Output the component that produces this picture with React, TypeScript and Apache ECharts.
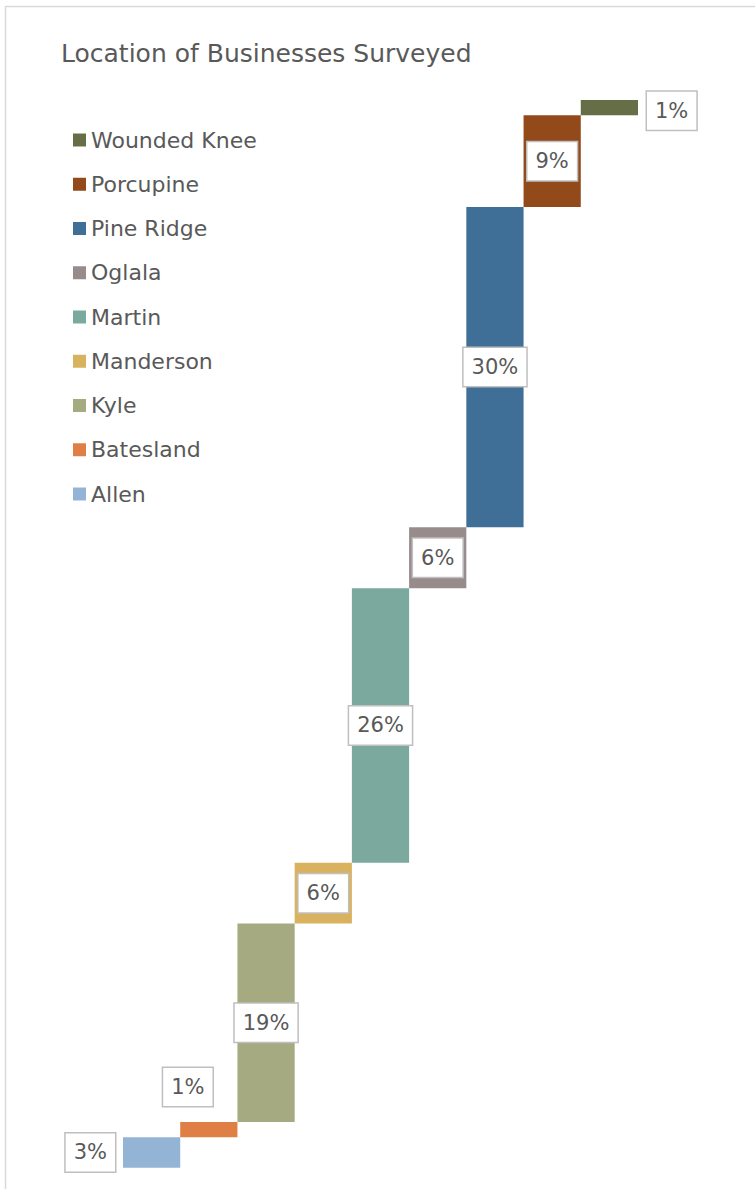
import React, { useEffect, useRef } from "react";
import * as echarts from "echarts";

const categories = [
  "Allen",
  "Batesland",
  "Kyle",
  "Manderson",
  "Martin",
  "Oglala",
  "Pine Ridge",
  "Porcupine",
  "Wounded Knee",
];
const shares = [2.86, 1.43, 18.57, 5.71, 25.71, 5.71, 30.0, 8.57, 1.43];
const colors = [
  "#93b4d5",
  "#e07f45",
  "#a5aa80",
  "#d9b25f",
  "#7ca99e",
  "#978b8b",
  "#3f6f97",
  "#934a1b",
  "#666e47",
];
const yMax = 100;
const titleText = "Location of Businesses Surveyed";

const FONT = "DejaVu Sans";
const TEXT = "#595959";

export default function App() {
  const ref = useRef<HTMLDivElement>(null);

  useEffect(() => {
    if (!ref.current) return;
    const chart = echarts.init(ref.current, null, { renderer: "svg" });

    const bases: number[] = [];
    let acc = 0;
    for (let i = 0; i < shares.length; i++) {
      bases.push(acc);
      acc += shares[i];
    }

    const labelBase = {
      show: true,
      formatter: (p: any) => Math.round(p.value) + "%",
      fontFamily: FONT,
      fontSize: 21,
      lineHeight: 22,
      color: TEXT,
      backgroundColor: "#ffffff",
      borderColor: "#bfbfbf",
      borderWidth: 1.5,
      padding: [8, 8, 8, 8],
    };

    const labelFor = (i: number) => {
      if (i === 0) return { ...labelBase, position: "left", distance: 8 };
      if (i === 1)
        return { ...labelBase, position: "top", distance: 16, offset: [-21, 0] };
      if (i === categories.length - 1)
        return { ...labelBase, position: "right", distance: 9, offset: [0, 3] };
      return { ...labelBase, position: "inside" };
    };

    const valueSeries = categories.map((name, i) => ({
      name,
      type: "bar",
      stack: "total",
      barWidth: "100%",
      itemStyle: { color: colors[i] },
      label: labelFor(i),
      data: categories.map((_, j) => (j === i ? shares[i] : "-")),
      z: 3,
    }));

    const option: any = {
      animation: false,
      backgroundColor: "#ffffff",
      title: {
        text: titleText,
        left: 61,
        top: 40,
        padding: 0,
        textStyle: {
          fontFamily: FONT,
          fontSize: 25,
          fontWeight: "normal",
          color: TEXT,
          lineHeight: 26,
        },
      },
      legend: {
        orient: "vertical",
        left: 73,
        top: 129,
        padding: 0,
        itemWidth: 13,
        itemHeight: 13,
        itemGap: 22.25,
        icon: "rect",
        data: [...categories].reverse(),
        textStyle: {
          fontFamily: FONT,
          fontSize: 22,
          lineHeight: 22,
          color: TEXT,
        },
      },
      grid: {
        left: 123,
        right: 117,
        top: 100,
        bottom: 21.3,
        containLabel: false,
      },
      xAxis: {
        type: "category",
        data: categories,
        show: false,
      },
      yAxis: {
        type: "value",
        min: 0,
        max: yMax,
        show: false,
        splitLine: { show: false },
      },
      graphic: [
        {
          type: "line",
          shape: { x1: 5, y1: 6.5, x2: 755, y2: 6.5 },
          style: { stroke: "#d9d9d9", lineWidth: 1.5 },
        },
        {
          type: "line",
          shape: { x1: 5.5, y1: 6, x2: 5.5, y2: 1189 },
          style: { stroke: "#d9d9d9", lineWidth: 1.5 },
        },
      ],
      series: [
        {
          name: "base",
          type: "bar",
          stack: "total",
          barWidth: "100%",
          itemStyle: { color: "transparent" },
          emphasis: { disabled: true },
          silent: true,
          data: bases,
        },
        ...valueSeries,
      ],
    };

    chart.setOption(option);
    return () => chart.dispose();
  }, []);

  return (
    <div
      ref={ref}
      style={{ position: "absolute", left: 0, top: 0, width: 755, height: 1189 }}
    />
  );
}
